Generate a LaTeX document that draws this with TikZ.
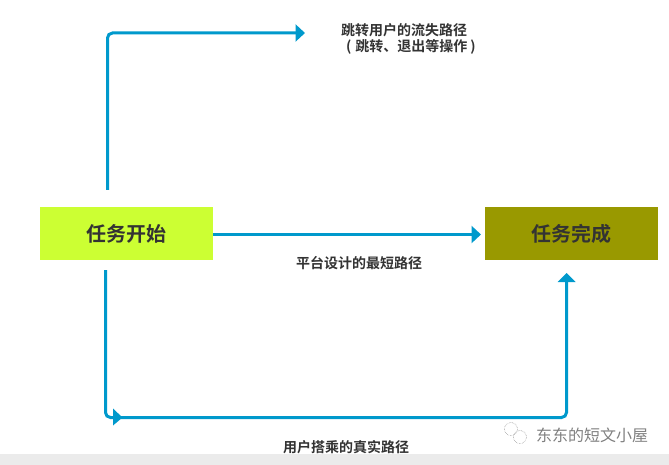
\documentclass[tikz,border=0pt]{standalone}
\usepackage{fontspec}
\usetikzlibrary{arrows.meta}
\newfontfamily\cjk{Noto Sans CJK SC}[BoldFont={Noto Sans CJK SC Bold}]
\definecolor{flow}{HTML}{0099CC}
\definecolor{ink}{HTML}{333333}
\definecolor{startc}{HTML}{CCFF33}
\definecolor{endc}{HTML}{999900}
\definecolor{barc}{HTML}{EBEBEB}
\tikzset{
  taskbox/.style={minimum width=173pt,minimum height=53pt,inner sep=0pt,text=ink,font=\cjk\bfseries\fontsize{20}{24}\selectfont},
  caption/.style={inner sep=0pt,text=ink,align=left,font=\cjk\bfseries\fontsize{14}{16}\selectfont},
  flowline/.style={draw=flow,line width=3pt,rounded corners=5pt,-{Triangle[length=9.5pt,width=17pt]}},
}
\begin{document}
\begin{tikzpicture}[x=1pt,y=-1pt]
\useasboundingbox (0,0) rectangle (669,465);
\node[taskbox,fill=startc] (start) at (126.5,233.5) {任务开始};
\node[taskbox,fill=endc] (done) at (571.5,233.5) {任务完成};
\node[caption,anchor=west] (lost) at (341,39) {跳转用户的流失路径\\\hspace{5pt}(\hspace{4pt}跳转、退出等操作\hspace{3pt})};
\node[caption] (short) at (359,263) {平台设计的最短路径};
\coordinate (topfrom) at (107.5,190);
\coordinate (topto) at (305,33);
\coordinate (botfrom) at (105.5,270);
\coordinate (botmid) at (122.5,417.5);
\coordinate (botto) at (566.5,273);
\draw[flowline] (topfrom) |- (topto);
\draw[flowline] (start.east |- 0,234.5) -- (481,234.5) coordinate (midto);
\draw[flowline,-] (botfrom) |- (botmid) -- (566.5,417.5) -- (566.5,282);
\fill[flow] (566.5,273) -- (575.5,282) -- (557.5,282) -- cycle;
\fill[flow] (botmid) -- (113,408.5) -- (113,425.5) -- cycle;
\node[caption] (real) at (346,447) {用户搭乘的真实路径};
\fill[barc] (0,454) rectangle (669,465);
\node[inner sep=0pt,text=gray,font=\cjk\fontsize{16}{18}\selectfont] (mark) at (592,435) {东东的短文小屋};
\draw[gray,line width=.5pt,densely dotted] (511,429) circle (6.5);
\draw[gray,line width=.5pt,densely dotted] (520,437) circle (6.5);
\end{tikzpicture}
\end{document}
